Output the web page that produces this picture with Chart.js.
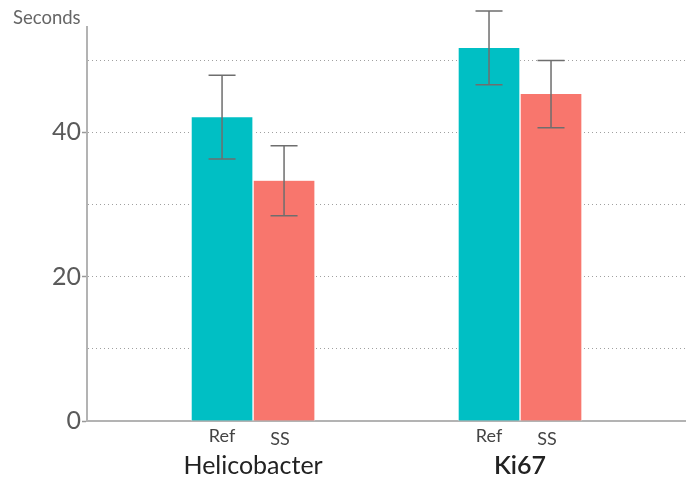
<!DOCTYPE html>
<html>
<head>
<meta charset="utf-8">
<script src="https://cdn.jsdelivr.net/npm/chart.js@4/dist/chart.umd.min.js"></script>
<style>
  html, body { margin: 0; padding: 0; background: #fff; }
  #wrap { width: 688px; height: 478px; position: relative; }
</style>
</head>
<body>
<div id="wrap"><canvas id="c"></canvas></div>
<script>
const categories = ['Helicobacter', 'Ki67'];
const seriesNames = ['Ref', 'SS'];
const refValues = [42.1, 51.7];
const ssValues = [33.3, 45.3];
const refErrors = [5.8, 5.1];
const ssErrors = [4.85, 4.65];
const yTickLabels = [0, 20, 40];
const yTitle = 'Seconds';

const FONT = 'Lato, "Open Sans", sans-serif';

const errorBars = {
  id: 'errorBars',
  afterDatasetsDraw(chart) {
    const ctx = chart.ctx;
    const y = chart.scales.y;
    const errs = [refErrors, ssErrors];
    chart.data.datasets.forEach((ds, di) => {
      const meta = chart.getDatasetMeta(di);
      meta.data.forEach((bar, i) => {
        const v = ds.data[i].y;
        const e = errs[di][i];
        const top = y.getPixelForValue(v + e);
        const bot = y.getPixelForValue(v - e);
        const half = 13.5;
        ctx.save();
        ctx.strokeStyle = '#6e6e6e';
        ctx.lineWidth = 1.5;
        ctx.beginPath();
        ctx.moveTo(bar.x, top); ctx.lineTo(bar.x, bot);
        ctx.moveTo(bar.x - half, top); ctx.lineTo(bar.x + half, top);
        ctx.moveTo(bar.x - half, bot); ctx.lineTo(bar.x + half, bot);
        ctx.stroke();
        ctx.restore();
      });
    });
  }
};

const extraText = {
  id: 'extraText',
  afterDraw(chart) {
    const ctx = chart.ctx;
    const xa = chart.scales.x;
    ctx.save();
    ctx.fillStyle = '#666';
    ctx.font = '18.5px ' + FONT;
    ctx.textAlign = 'left';
    ctx.textBaseline = 'middle';
    ctx.fillText(yTitle, 13, 18);
    ctx.fillStyle = '#444';
    ctx.font = '18px ' + FONT;
    ctx.textAlign = 'center';
    chart.data.datasets.forEach((ds, di) => {
      const meta = chart.getDatasetMeta(di);
      meta.data.forEach((bar) => {
        ctx.fillText(seriesNames[di], bar.x - di * 4, xa.top + 15 + di * 3);
      });
    });
    ctx.restore();
  }
};

const toPoints = arr => arr.map((v, i) => ({ x: i + 1, y: v }));

new Chart(document.getElementById('c'), {
  type: 'bar',
  data: {
    datasets: [
      { label: seriesNames[0], data: toPoints(refValues), backgroundColor: '#00BFC4',
        borderColor: '#ffffff', borderWidth: { left: 1, right: 1, top: 0, bottom: 0 }, borderSkipped: false },
      { label: seriesNames[1], data: toPoints(ssValues), backgroundColor: '#F8766D',
        borderColor: '#ffffff', borderWidth: { left: 1, right: 1, top: 0, bottom: 0 }, borderSkipped: false }
    ]
  },
  options: {
    responsive: true,
    maintainAspectRatio: false,
    animation: false,
    barThickness: 62,
    layout: { padding: { top: 27, right: 3, left: 0, bottom: 0 } },
    plugins: { legend: { display: false }, tooltip: { enabled: false } },
    scales: {
      x: {
        type: 'linear',
        offset: false,
        bounds: 'data',
        min: 0.378,
        max: 2.618,
        afterBuildTicks: s => { s.ticks = categories.map((c, i) => ({ value: i + 1 })); },
        afterFit: s => { s.height = 57; },
        grid: { display: false, drawTicks: false },
        border: { display: true, color: '#b3b3b3', width: 2 },
        ticks: {
          padding: 30,
          color: '#222',
          font: ctx => ({ family: FONT, size: 25, weight: (ctx.tick && ctx.tick.value === 2) ? '600' : 'normal' }),
          callback: v => categories[Math.round(v) - 1] || ''
        }
      },
      y: {
        min: 0,
        max: 54.6,
        afterBuildTicks: s => { s.ticks = s.ticks.filter(t => t.value % 10 === 0); },
        afterFit: s => { s.width = 87; },
        grid: {
          color: ctx => (ctx.tick && ctx.tick.value === 0) ? 'transparent' : '#a0a0a0',
          lineWidth: 1,
          drawTicks: true,
          tickLength: 5,
          tickColor: ctx => (ctx.tick && yTickLabels.includes(ctx.tick.value)) ? '#999' : 'transparent',
          tickWidth: 1.5
        },
        border: { display: true, color: '#b3b3b3', width: 2, dash: [1, 3] },
        ticks: {
          stepSize: 10,
          padding: 1,
          color: '#5a5a5a',
          font: { family: FONT, size: 25 },
          callback: v => yTickLabels.includes(v) ? String(v) : ''
        }
      }
    }
  },
  plugins: [errorBars, extraText]
});
</script>
</body>
</html>
